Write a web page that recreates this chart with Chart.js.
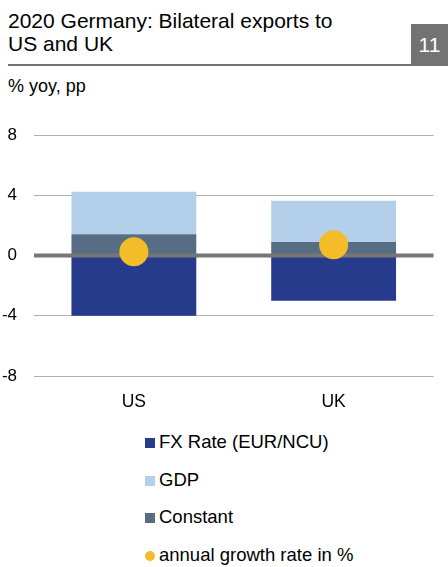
<!DOCTYPE html>
<html>
<head>
<meta charset="utf-8">
<script src="https://cdn.jsdelivr.net/npm/chart.js@4"></script>
<style>
  body { margin: 0; width: 448px; height: 567px; background: #fff; font-family: "Liberation Sans", Arial, sans-serif; position: relative; overflow: hidden; }
  #title { position: absolute; left: 8px; top: 9px; font-size: 21px; line-height: 23px; color: #000; }
  #rule { position: absolute; left: 8px; top: 64px; width: 403px; height: 2px; background: #737373; }
  #page { position: absolute; left: 411px; top: 24px; width: 37px; height: 42px; background: #737373; color: #fff; font-size: 21px; line-height: 42px; text-align: center; }
  #unit { position: absolute; left: 8px; top: 76px; font-size: 18px; color: #000; }
  #wrap { position: absolute; left: 0; top: 108px; width: 448px; height: 310px; }
  #legend { position: absolute; left: 145px; top: 431px; font-size: 18.5px; color: #000; }
  #legend div { height: 37.7px; display: flex; align-items: flex-start; }
  #legend span.sw { display: inline-block; width: 10px; height: 10px; margin-right: 4px; margin-top: 7px; }
  #legend span.dot { border-radius: 50%; }
</style>
</head>
<body>
<div id="title">2020 Germany: Bilateral exports to<br>US and UK</div>
<div id="rule"></div>
<div id="page">11</div>
<div id="unit">% yoy, pp</div>
<div id="wrap"><canvas id="c"></canvas></div>
<div id="legend"></div>
<script>
const countries = ['US', 'UK'];
const fxRate = [-4.0, -3.0];
const constant = [1.42, 0.9];
const gdp = [2.82, 2.75];
const growth = [0.26, 0.72];
const yTicks = [-8, -4, 0, 4, 8];

const colors = {
  fx: '#273b8c',
  gdp: '#b4cfe9',
  constant: '#566d84',
  growth: '#f5bc2a'
};

// thick grey zero line drawn over the bars, under the dots
const zeroLine = {
  id: 'zeroLine',
  beforeDatasetDraw(chart, args) {
    if (args.index !== 3) return;
    const ctx = chart.ctx;
    const y = chart.scales.y.getPixelForValue(0);
    ctx.save();
    ctx.strokeStyle = '#777777';
    ctx.lineWidth = 4;
    ctx.beginPath();
    ctx.moveTo(chart.chartArea.left, y);
    ctx.lineTo(chart.chartArea.right, y);
    ctx.stroke();
    ctx.restore();
  }
};

const ctx = document.getElementById('c').getContext('2d');
const chart = new Chart(ctx, {
  type: 'bar',
  data: {
    labels: countries,
    datasets: [
      { label: 'FX Rate (EUR/NCU)', data: fxRate, backgroundColor: colors.fx, order: 1 },
      { label: 'Constant', data: constant, backgroundColor: colors.constant, order: 1 },
      { label: 'GDP', data: gdp, backgroundColor: colors.gdp, order: 1 },
      {
        type: 'line', label: 'annual growth rate in %', data: growth,
        showLine: false, pointRadius: 14.5, pointHoverRadius: 14.5,
        pointBackgroundColor: colors.growth, pointBorderWidth: 0, order: 0
      }
    ]
  },
  options: {
    responsive: true,
    maintainAspectRatio: false,
    animation: false,
    datasets: { bar: { barPercentage: 0.625, categoryPercentage: 1 } },
    layout: { padding: { top: 24, right: 4, left: 0, bottom: 0 } },
    plugins: { legend: { display: false }, tooltip: { enabled: false } },
    scales: {
      x: {
        stacked: true,
        grid: { display: false },
        border: { display: false },
        ticks: { color: '#000', font: { family: 'Liberation Sans', size: 17.5 }, padding: 8 },
        afterFit(scale) { scale.height = 42; }
      },
      y: {
        stacked: true,
        min: -8,
        max: 8,
        afterBuildTicks(scale) { scale.ticks = yTicks.map(v => ({ value: v })); },
        grid: { color: '#b0b0b0', lineWidth: 1, drawTicks: false },
        border: { display: false },
        ticks: { color: '#000', font: { family: 'Liberation Sans', size: 17 }, padding: 17 },
        afterFit(scale) { scale.width = 34; }
      }
    }
  },
  plugins: [zeroLine]
});

// legend in the reference order
const order = [0, 2, 1, 3];
const legend = document.getElementById('legend');
order.forEach(i => {
  const ds = chart.data.datasets[i];
  const row = document.createElement('div');
  const sw = document.createElement('span');
  sw.className = 'sw' + (ds.type === 'line' ? ' dot' : '');
  sw.style.background = ds.type === 'line' ? ds.pointBackgroundColor : ds.backgroundColor;
  row.appendChild(sw);
  row.appendChild(document.createTextNode(ds.label));
  legend.appendChild(row);
});
</script>
</body>
</html>
